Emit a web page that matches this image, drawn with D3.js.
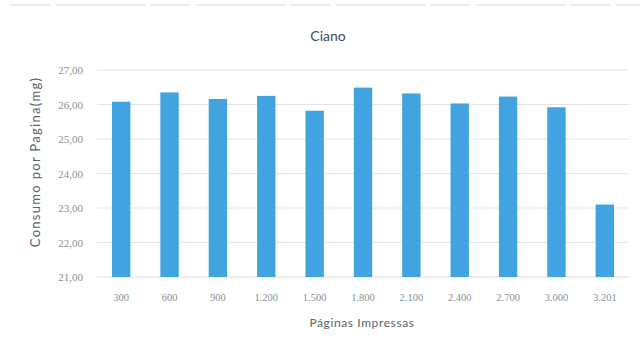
<!DOCTYPE html>
<html><head><meta charset="utf-8">
<script src="https://cdn.jsdelivr.net/npm/d3@7"></script>
<style>body{margin:0;background:#fff;} svg{display:block;}</style>
</head><body>
<svg id="c" width="644" height="356"></svg>
<script>
const categories = ["300","600","900","1.200","1.500","1.800","2.100","2.400","2.700","3.000","3.201"];
const values = [26.08, 26.35, 26.16, 26.25, 25.82, 26.49, 26.32, 26.03, 26.23, 25.92, 23.10];
const yTicks = [21, 22, 23, 24, 25, 26, 27];
const title = "Ciano";
const xTitle = "Páginas Impressas";
const yTitle = "Consumo por Pagina(mg)";

const svg = d3.select("#c");
const font = "Lato, 'Open Sans', sans-serif";

const x = d3.scaleBand().domain(categories).range([97, 629]).paddingInner(0.62).paddingOuter(0.31);
const y = d3.scaleLinear().domain([21, 27]).range([277, 70]);

// faint scan line at top
svg.append("line").attr("x1", 10).attr("x2", 640).attr("y1", 5).attr("y2", 5)
  .attr("stroke", "#d6dbe3").attr("stroke-width", 1.2).attr("stroke-dasharray", "40,6,90,4");

// gridlines
svg.append("g").selectAll("line").data(yTicks.slice(1)).join("line")
  .attr("x1", 97).attr("x2", 629)
  .attr("y1", d => y(d)).attr("y2", d => y(d))
  .attr("stroke", "#e2e4e8").attr("stroke-width", 1);

// baseline
svg.append("line").attr("x1", 97).attr("x2", 629).attr("y1", y(21)).attr("y2", y(21))
  .attr("stroke", "#dadde2");

// y axis labels
const yAxis = d3.axisLeft(y).tickValues(yTicks).tickSize(0).tickPadding(0)
  .tickFormat(d => d3.format(".2f")(d).replace(".", ","));
const gy = svg.append("g").attr("transform", "translate(83,0)").call(yAxis);
gy.select(".domain").remove();
gy.selectAll("text").attr("font-family", "'Liberation Serif', serif").attr("font-size", 11).attr("fill", "#8a8f96");

// bars
svg.append("g").selectAll("rect").data(values).join("rect")
  .attr("x", (d, i) => x(categories[i]))
  .attr("width", x.bandwidth())
  .attr("y", d => y(d))
  .attr("height", d => y(21) - y(d))
  .attr("fill", "#41a3df");

// x axis labels
const xAxis = d3.axisBottom(x).tickSize(0).tickPadding(0);
const gx = svg.append("g").attr("transform", "translate(0,294)").call(xAxis);
gx.select(".domain").remove();
gx.selectAll("text").attr("font-family", "'Liberation Serif', serif").attr("font-size", 10.5).attr("fill", "#8a8f96");

// titles
svg.append("text").attr("x", 328).attr("y", 41).attr("text-anchor", "middle")
  .attr("font-family", font).attr("font-size", 14).attr("fill", "#3a4b6b").text(title);
svg.append("text").attr("x", 362).attr("y", 327).attr("text-anchor", "middle")
  .attr("font-family", font).attr("font-size", 12).attr("letter-spacing", 0.6).attr("fill", "#5d636b").text(xTitle);
svg.append("text").attr("transform", "translate(40,162) rotate(-90)").attr("text-anchor", "middle")
  .attr("font-family", font).attr("font-size", 13).attr("letter-spacing", 1.3).attr("fill", "#5a6068").text(yTitle);
</script>
</body></html>
